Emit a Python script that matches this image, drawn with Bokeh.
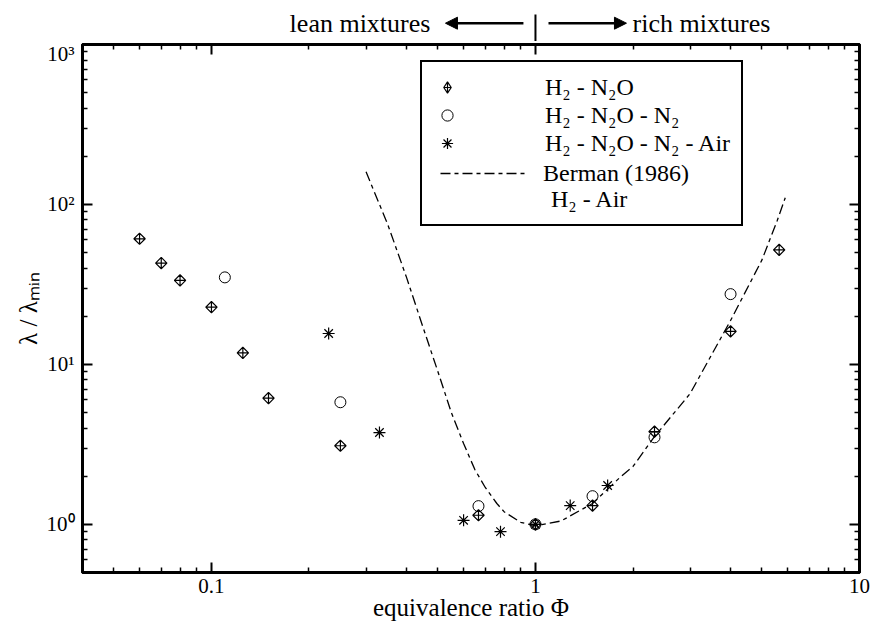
from bokeh.plotting import figure
from bokeh.layouts import column
from bokeh.models import (LogAxis, FixedTicker, Label, Arrow, NormalHead, Legend,
                          LegendItem, Range1d)
from bokeh.embed import file_html
from bokeh.resources import INLINE

FONT = "Liberation Serif"

# ---------------- data ----------------
n2o_phi = [0.06, 0.07, 0.08, 0.10, 0.125, 0.15, 0.25, 0.667, 1.0, 1.5, 2.33, 4.0, 5.65]
n2o_lam = [61.0, 43.0, 33.5, 22.8, 11.8, 6.15, 3.1, 1.14, 1.0, 1.31, 3.8, 16.1, 52.0]

n2_phi = [0.11, 0.25, 0.667, 1.0, 1.5, 2.33, 4.0]
n2_lam = [35.0, 5.8, 1.30, 1.0, 1.5, 3.5, 27.5]

air_phi = [0.23, 0.33, 0.60, 0.78, 1.0, 1.28, 1.67]
air_lam = [15.6, 3.75, 1.06, 0.90, 1.0, 1.31, 1.75]

berman_phi = [0.30, 0.35, 0.40, 0.45, 0.50, 0.55, 0.60, 0.65, 0.70, 0.76, 0.80, 0.90,
              1.00, 1.20, 1.50, 1.83, 2.00, 2.32, 3.00, 4.00, 5.00, 5.57, 5.90]
berman_lam = [160, 75, 35, 17, 9.0, 5.0, 3.2, 2.2, 1.7, 1.35, 1.2, 1.03,
              0.98, 1.05, 1.35, 1.98, 2.3, 3.5, 6.56, 18.8, 45, 79, 110]

x_major = [0.1, 1, 10]
x_minor = [0.04, 0.05, 0.06, 0.07, 0.08, 0.09,
           0.2, 0.3, 0.4, 0.5, 0.6, 0.7, 0.8, 0.9,
           2, 3, 4, 5, 6, 7, 8, 9]
x_labels = {0.1: "0.1", 1: "1", 10: "10"}
y_major = [1, 10, 100, 1000]
y_minor = [0.5, 0.6, 0.7, 0.8, 0.9,
           2, 3, 4, 5, 6, 7, 8, 9,
           20, 30, 40, 50, 60, 70, 80, 90,
           200, 300, 400, 500, 600, 700, 800, 900]
y_labels = {1: "10\u2070", 10: "10\u00b9", 100: "10\u00b2", 1000: "10\u00b3"}

x_range = Range1d(0.04, 10)
y_range = Range1d(0.5, 1000)

# ---------------- header strip (lean / rich annotation) ----------------
top = figure(width=873, height=41, x_axis_type="log", x_range=x_range,
             y_range=Range1d(0, 41), output_backend="svg", toolbar_location=None,
             min_border_left=82, min_border_right=14, min_border_top=0,
             min_border_bottom=0, x_axis_location=None, y_axis_location=None)
top.grid.visible = False
top.outline_line_color = None

top.add_layout(Arrow(end=None, x_start=1, y_start=27, x_end=1, y_end=-3,
                     line_color="black", line_width=2))
top.add_layout(Arrow(end=NormalHead(size=12, fill_color="black", line_color="black"),
                     x_start=0.918, y_start=18.3, x_end=0.5275, y_end=18.3,
                     line_color="black", line_width=2.5))
top.add_layout(Arrow(end=NormalHead(size=12, fill_color="black", line_color="black"),
                     x_start=1.097, y_start=18.3, x_end=1.909, y_end=18.3,
                     line_color="black", line_width=2.5))
top.add_layout(Label(x=0.474, y=18.3, text="lean mixtures", text_align="right",
                     text_baseline="middle", text_font=FONT,
                     text_font_size="26px", text_color="black"))
top.add_layout(Label(x=1.993, y=18.3, text="rich mixtures", text_align="left",
                     text_baseline="middle", text_font=FONT,
                     text_font_size="26px", text_color="black"))

# ---------------- main figure ----------------
p = figure(width=873, height=587, x_axis_type="log", y_axis_type="log",
           x_range=x_range, y_range=y_range,
           output_backend="svg", toolbar_location=None,
           min_border_left=82, min_border_right=14, min_border_top=3,
           min_border_bottom=56)
p.grid.visible = False
p.outline_line_color = "black"
p.outline_line_width = 3


def style_axis(ax, labels=None, ticks=None, minor=None, show=True):
    ax.ticker = FixedTicker(ticks=ticks, minor_ticks=minor)
    ax.axis_line_color = "black"
    ax.axis_line_width = 3
    ax.major_tick_in = 10
    ax.major_tick_out = 0
    ax.minor_tick_in = 5
    ax.minor_tick_out = 0
    ax.major_tick_line_width = 2
    ax.minor_tick_line_width = 1.5
    ax.major_tick_line_color = "black"
    ax.minor_tick_line_color = "black"
    ax.major_label_text_font = FONT
    if show:
        ax.major_label_overrides = labels
        ax.major_label_text_font_size = "21px"
        ax.major_label_text_color = "black"
    else:
        ax.major_label_text_font_size = "2px"
        ax.major_label_text_color = None
        ax.major_label_standoff = 0


xa = p.xaxis[0]
style_axis(xa, x_labels, x_major, x_minor)
xa.major_label_standoff = 6
xa.axis_label = "equivalence ratio \u03a6"
xa.axis_label_text_font = FONT
xa.axis_label_text_font_size = "25px"
xa.axis_label_text_font_style = "normal"
xa.axis_label_text_color = "black"
xa.axis_label_standoff = -2

ya = p.yaxis[0]
style_axis(ya, y_labels, y_major, y_minor)
ya.major_label_standoff = 8
ya.axis_label = "\u03bb / \u03bb\u2098\u1d62\u2099"
ya.axis_label_text_font = FONT
ya.axis_label_text_font_size = "25px"
ya.axis_label_text_font_style = "normal"
ya.axis_label_text_color = "black"
ya.axis_label_standoff = 2

top_ax = LogAxis()
style_axis(top_ax, ticks=x_major, minor=x_minor, show=False)
p.add_layout(top_ax, "above")
right_ax = LogAxis()
style_axis(right_ax, ticks=y_major, minor=y_minor, show=False)
p.add_layout(right_ax, "right")

# ---------------- data glyphs ----------------
r_line = p.line(berman_phi, berman_lam, line_color="black", line_width=1.3,
                line_dash="10 4 4 4")
r_n2o = p.scatter(n2o_phi, n2o_lam, marker="square_x", size=8, angle=0.785398,
                  fill_color=None, line_color="black", line_width=1.2)
r_n2 = p.scatter(n2_phi, n2_lam, marker="circle", size=11,
                 fill_color=None, line_color="black", line_width=1.0)
r_air = p.scatter(air_phi, air_lam, marker="asterisk", size=12,
                  line_color="black", line_width=1.2)
# legend key for the N2O series (hidden in the plot, shown only in the legend)
r_n2o_key = p.scatter(n2o_phi, n2o_lam, marker="diamond_cross", size=11,
                      fill_color=None, line_color="black", line_width=1.2,
                      visible=False)
r_blank = p.scatter([], [], marker="circle", size=1, line_alpha=0,
                    fill_alpha=0)

# ---------------- legends ----------------
leg_a = Legend(items=[
    LegendItem(label="H\u2082 - N\u2082O", renderers=[r_n2o_key]),
    LegendItem(label="H\u2082 - N\u2082O - N\u2082", renderers=[r_n2]),
    LegendItem(label="H\u2082 - N\u2082O - N\u2082 - Air", renderers=[r_air]),
    LegendItem(label="\u00a0", renderers=[r_blank]),
    LegendItem(label="\u00a0H\u2082 - Air", renderers=[r_blank]),
], location=(338, 346), orientation="vertical",
    glyph_width=28, glyph_height=28, label_height=20, label_standoff=84,
    spacing=0, padding=11, margin=0,
    label_text_font=FONT, label_text_font_size="24px", label_text_color="black",
    border_line_color="black", border_line_width=2.5, border_line_alpha=1,
    background_fill_color="white", background_fill_alpha=1,
    inactive_fill_alpha=0)
p.add_layout(leg_a)

leg_b = Legend(items=[LegendItem(label="Berman (1986)", renderers=[r_line])],
               location=(358, 385), glyph_width=85, glyph_height=28,
               label_height=20, label_standoff=18, padding=0, margin=0,
               label_text_font=FONT, label_text_font_size="24px",
               label_text_color="black", border_line_color=None,
               background_fill_alpha=0)
p.add_layout(leg_b)

layout = column(top, p, spacing=0)

with open("out.html", "w") as f:
    f.write(file_html(layout, INLINE))
